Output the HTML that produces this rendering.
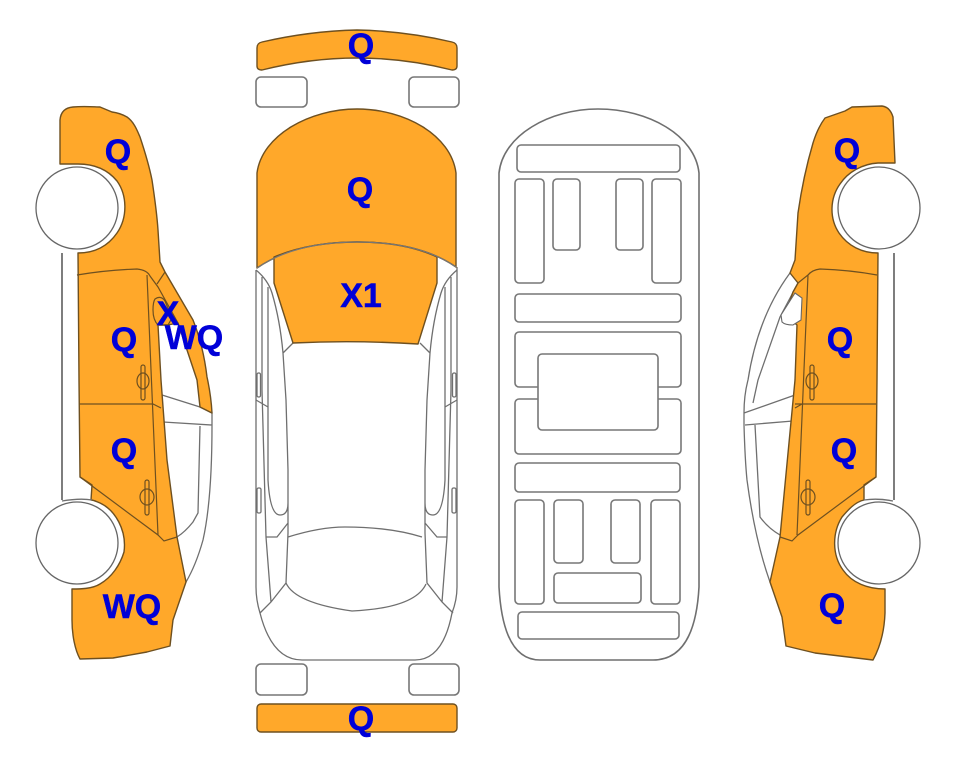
<!DOCTYPE html>
<html><head><meta charset="utf-8"><style>
html,body{margin:0;padding:0;background:#fff;width:963px;height:768px;overflow:hidden}
svg{display:block}
.o{fill:#ffa82a;stroke:#6e5020;stroke-width:1.4;stroke-linejoin:round}
.n{fill:none;stroke:#6e5020;stroke-width:1.2}
.g{fill:none;stroke:#6f6f6f;stroke-width:1.3}
.r{fill:#fff;stroke:#777;stroke-width:1.6}
.w{fill:#fff;stroke:#666;stroke-width:1.3}
text{font-family:"Liberation Sans",Arial,sans-serif;font-weight:bold;font-size:34px;fill:#0000d8;stroke:#0000d8;stroke-width:.5;text-anchor:middle}
</style></head><body>
<svg width="963" height="768" viewBox="0 0 963 768" xmlns="http://www.w3.org/2000/svg">

<!-- LEFT CAR -->
<g>
<path class="g" style="stroke-width:1.8" d="M62 253V500"/>
<path class="g" d="M162 395L200 407L212 413V425L163 422M200 426L198 513L193 522Q185 532 177 537M212 425Q212 500 203 540Q196 565 186 582"/>
<path class="o" d="M73 107C85 106 95 107 100 107L112 112Q120 113 127 117C134 122 137 130 140 137C146 155 149 165 152 180C155 200 157 215 158 230L160 262L165 272L193 320C201 340 205 360 207 377Q211 395 212 413L200 407L197 380L178 323L168 325H158L161 380L167 460L177 537L186 582L173 620L170 646L147 652L113 658L80 659C75 650 72 635 72 620V589C80 589 92 589 100 584C112 577 120 565 124 552C127 530 115 510 100 503C97 502 94 500 91 500L92 485L80 477L79 380L78 253C95 253 108 246 117 233C128 217 127 195 117 181C108 170 95 164 78 164H60V120Q61 108 73 107Z"/>
<path class="n" d="M77 275Q107 270 137 269Q147 270 150 276L158 287L178 323M165 272L157 284M147 275L158 535M79 404H153L161 408M80 477L158 535L164 541L177 537"/>
<path class="n" d="M155 299Q161 295 165 301L172 318L168 325H158Q153 320 153 310Q153 302 155 299Z"/>
<rect class="n" x="141" y="365" width="4" height="35" rx="2"/><ellipse class="n" cx="143" cy="381" rx="6" ry="8"/>
<rect class="n" x="145" y="480" width="4" height="35" rx="2"/><ellipse class="n" cx="147" cy="497" rx="7" ry="8"/>
<path class="g" d="M62 501Q80 498 92 500"/>
<circle cx="77" cy="208" r="41" class="w"/>
<circle cx="77" cy="543" r="41" class="w"/>
</g>

<!-- RIGHT CAR -->
<g>
<path class="g" style="stroke-width:1.8" d="M894 253V500"/>
<path class="g" d="M790 273C770 300 755 335 748 380Q744 395 744 413V425Q745 460 747 480Q755 540 770 582M808 275L798 283L780 317L758 380L753 403M744 413L795 395M745 425L793 421M755 425L760 517Q768 528 780 535"/>
<path class="o" d="M882 106Q890 107 893 117L895 163H878C862 164 848 172 840 184C830 198 829 218 839 233C848 246 862 253 878 253L877 380L876 477L864 485V500C855 502 848 510 842 517C832 533 832 555 843 570C852 583 868 589 885 589V613Q884 640 873 660L815 653L786 646L782 617L770 582L780 537L795 380L797 325L785 315L793 292L798 283L790 273L795 260L798 213C802 185 808 160 813 143C817 130 822 122 825 118L845 111L852 107Z"/>
<path class="w" style="stroke-width:1.1" d="M795 293L802 298L801 320L793 325Q785 325 782 322L781 315Z"/>
<path class="n" d="M877 275Q850 270 820 269Q812 270 808 275L798 283M808 275L797 535M795 404H876M795 408L802 404M876 477L798 535L792 541L780 537"/>
<rect class="n" x="810" y="365" width="4" height="35" rx="2"/><ellipse class="n" cx="812" cy="381" rx="6" ry="8"/>
<rect class="n" x="806" y="480" width="4" height="35" rx="2"/><ellipse class="n" cx="808" cy="497" rx="7" ry="8"/>
<path class="g" d="M893 501Q878 498 864 500"/>
<circle cx="879" cy="208" r="41" class="w"/>
<circle cx="879" cy="543" r="41" class="w"/>
</g>

<!-- TOP VIEW -->
<path class="o" d="M262 70Q257 70 257 66V48Q257 43 262 42Q310 31 357 30Q405 31 452 42Q457 43 457 48V66Q457 70 452 70Q405 58 357 58Q310 58 262 70Z"/>
<rect class="r" x="256" y="77" width="51" height="30" rx="5"/>
<rect class="r" x="409" y="77" width="50" height="30" rx="5"/>
<path class="g" d="M256 270V587Q256 600 260 613Q272 660 302 660H415Q443 660 452 613Q457 600 457 587V267"/>
<g>
<path class="g" d="M262 277V390L266 537L271 602M268 287V480Q270 515 280 515Q288 515 288 503M256 270Q268 280 272 293Q280 320 283 353L286 400L288 470V533L286 583L271 602L260 613M283 353L293 343M288 523L277 537H266M256 400L268 407"/>
<rect class="g" x="257" y="373" width="3.5" height="24" rx="1.5"/>
<rect class="g" x="257" y="488" width="4" height="25" rx="1.5"/>
</g>
<g>
<path class="g" d="M451 277V390L447 537L442 602M445 287V480Q443 515 433 515Q425 515 425 503M457 270Q445 280 441 293Q433 320 430 353L427 400L425 470V533L427 583L442 602L453 613M430 353L420 343M425 523L437 537H447M457 400L445 407"/>
<rect class="g" x="452.500" y="373" width="3.500" height="24" rx="1.500"/>
<rect class="g" x="452" y="488" width="4" height="25" rx="1.500"/>
</g>
<path class="g" d="M288 537Q320 527 345 527Q390 527 422 537M286 583Q295 603 352 611Q415 608 426 584"/>
<path class="o" d="M257 268V173C262 135 310 109 357 109C405 109 451 135 456 173V267Q420 242 357 242Q295 242 257 268Z"/>
<path class="o" d="M274 257Q310 242 357 242Q405 242 437 257V283L418 344Q355 340 293 343L274 283Z"/>
<path style="fill:none;stroke:#777;stroke-width:1.2" d="M257 268Q295 242 357 242Q420 242 456 267"/>
<rect class="o" x="257" y="704" width="200" height="28" rx="4"/>
<rect class="r" x="256" y="664" width="51" height="31" rx="5"/>
<rect class="r" x="409" y="664" width="50" height="31" rx="5"/>

<!-- CENTER CAR -->
<path class="g" style="stroke-width:1.6" d="M499 173C503 135 550 109 598 109C648 109 695 135 699 173V587Q695 660 653 660H540Q503 660 499 587Z"/>
<rect class="r" x="517" y="145" width="163" height="27" rx="4"/>
<rect class="r" x="515" y="179" width="29" height="104" rx="4"/>
<rect class="r" x="553" y="179" width="27" height="71" rx="4"/>
<rect class="r" x="616" y="179" width="27" height="71" rx="4"/>
<rect class="r" x="652" y="179" width="29" height="104" rx="4"/>
<rect class="r" x="515" y="294" width="166" height="28" rx="4"/>
<rect class="r" x="515" y="332" width="166" height="55" rx="4"/>
<rect class="r" x="515" y="399" width="166" height="55" rx="4"/>
<rect class="r" x="538" y="354" width="120" height="76" rx="4"/>
<rect class="r" x="515" y="463" width="165" height="29" rx="4"/>
<rect class="r" x="515" y="500" width="29" height="104" rx="4"/>
<rect class="r" x="554" y="500" width="29" height="63" rx="4"/>
<rect class="r" x="611" y="500" width="29" height="63" rx="4"/>
<rect class="r" x="651" y="500" width="29" height="104" rx="4"/>
<rect class="r" x="554" y="573" width="87" height="30" rx="4"/>
<rect class="r" x="518" y="612" width="161" height="27" rx="4"/>

<!-- LABELS -->
<text x="361" y="57">Q</text>
<text x="360" y="201">Q</text>
<text x="361" y="307">X1</text>
<text x="361" y="730">Q</text>
<text x="118" y="163">Q</text>
<text x="124" y="351">Q</text>
<text x="168" y="325">X</text>
<text x="194" y="349">WQ</text>
<text x="124" y="462">Q</text>
<text x="132" y="618">WQ</text>
<text x="847" y="162">Q</text>
<text x="840" y="351">Q</text>
<text x="844" y="462">Q</text>
<text x="832" y="617">Q</text>
</svg>
</body></html>
